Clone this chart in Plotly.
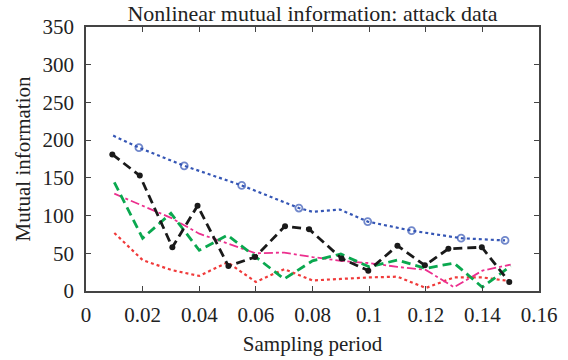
import plotly.graph_objects as go

# ---- data ----
x_common = [0.01, 0.02, 0.03, 0.04, 0.05, 0.06, 0.07, 0.08, 0.09, 0.10, 0.11, 0.12, 0.13, 0.14, 0.15]
green_vals = [144, 70, 103, 54, 74, 45, 16, 40, 49, 32, 41, 30, 37, 5, 33]
red_vals = [77, 41, 28, 20, 38, 12, 29, 14, 16, 18, 19, 4, 18, 18, 13]
magenta_vals = [129, 113, 97, 76, 63, 50, 51, 45, 40, 37, 32, 28, 5, 27, 35]

black_x = [0.0093, 0.019, 0.0305, 0.0394, 0.0503, 0.0597, 0.0703, 0.0788, 0.0903,
           0.0997, 0.110, 0.1197, 0.128, 0.1398, 0.1495]
black_vals = [181, 153, 58, 113, 33, 45, 86, 82, 43, 27, 60, 34, 56, 58, 12]

blue_x = [0.0096, 0.0187, 0.0347, 0.055, 0.0752, 0.080, 0.0897, 0.0995, 0.115, 0.1325, 0.148]
blue_vals = [206, 190, 166, 140, 110, 105, 108, 92, 80, 70, 67]
blue_marked = [0, 1, 1, 1, 1, 0, 0, 1, 1, 1, 1]

x_ticks = [0, 0.02, 0.04, 0.06, 0.08, 0.1, 0.12, 0.14, 0.16]
x_ticklabels = ["0", "0.02", "0.04", "0.06", "0.08", "0.1", "0.12", "0.14", "0.16"]
y_ticks = [0, 50, 100, 150, 200, 250, 300, 350]

FONT = "Liberation Serif"
FS = 21

fig = go.Figure()

fig.add_trace(go.Scatter(
    x=x_common, y=red_vals, mode="lines",
    line=dict(color="#f03a3a", width=2.2, dash="dot"), showlegend=False))
fig.add_trace(go.Scatter(
    x=x_common, y=magenta_vals, mode="lines",
    line=dict(color="#ec2f8e", width=1.8, dash="dashdot"), showlegend=False))
fig.add_trace(go.Scatter(
    x=x_common, y=green_vals, mode="lines",
    line=dict(color="#0aa84f", width=2.8, dash="9px,5px"), showlegend=False))
fig.add_trace(go.Scatter(
    x=black_x, y=black_vals, mode="lines+markers",
    line=dict(color="#1a1a1a", width=2.8, dash="9px,5px"),
    marker=dict(color="#1a1a1a", size=6, symbol="circle"), showlegend=False))
fig.add_trace(go.Scatter(
    x=blue_x, y=blue_vals, mode="lines+markers",
    line=dict(color="#3556b5", width=2.2, dash="dot"),
    marker=dict(size=[7 * m for m in blue_marked], symbol="circle-open",
                color="#3556b5", line=dict(width=1.8, color="#3556b5")),
    showlegend=False))

axis_common = dict(
    showgrid=False, zeroline=False, showline=True, linecolor="#444", linewidth=1.5,
    mirror="ticks", ticks="inside", ticklen=5, tickwidth=1, tickcolor="#444",
    tickfont=dict(family=FONT, size=FS, color="#222"), automargin=False,
)

fig.update_xaxes(range=[0, 0.16], tickvals=x_ticks, ticktext=x_ticklabels,
                 title=dict(text="Sampling period", font=dict(family=FONT, size=FS, color="#222"),
                            standoff=10),
                 ticklabelstandoff=4, **axis_common)
fig.update_yaxes(range=[0, 350], tickvals=y_ticks,
                 title=dict(text="Mutual information", font=dict(family=FONT, size=FS, color="#222"),
                            standoff=6),
                 ticklabelstandoff=6, **axis_common)

fig.update_layout(
    width=568, height=360,
    margin=dict(l=86, r=29, t=27, b=69),
    paper_bgcolor="white", plot_bgcolor="white",
    title=dict(text="Nonlinear mutual information: attack data",
               font=dict(family=FONT, size=22, color="#222"),
               x=0.5, xref="paper", y=(360 - 13) / 360, yref="container", yanchor="middle",
               automargin=False),
)

fig.write_html("out.html")
